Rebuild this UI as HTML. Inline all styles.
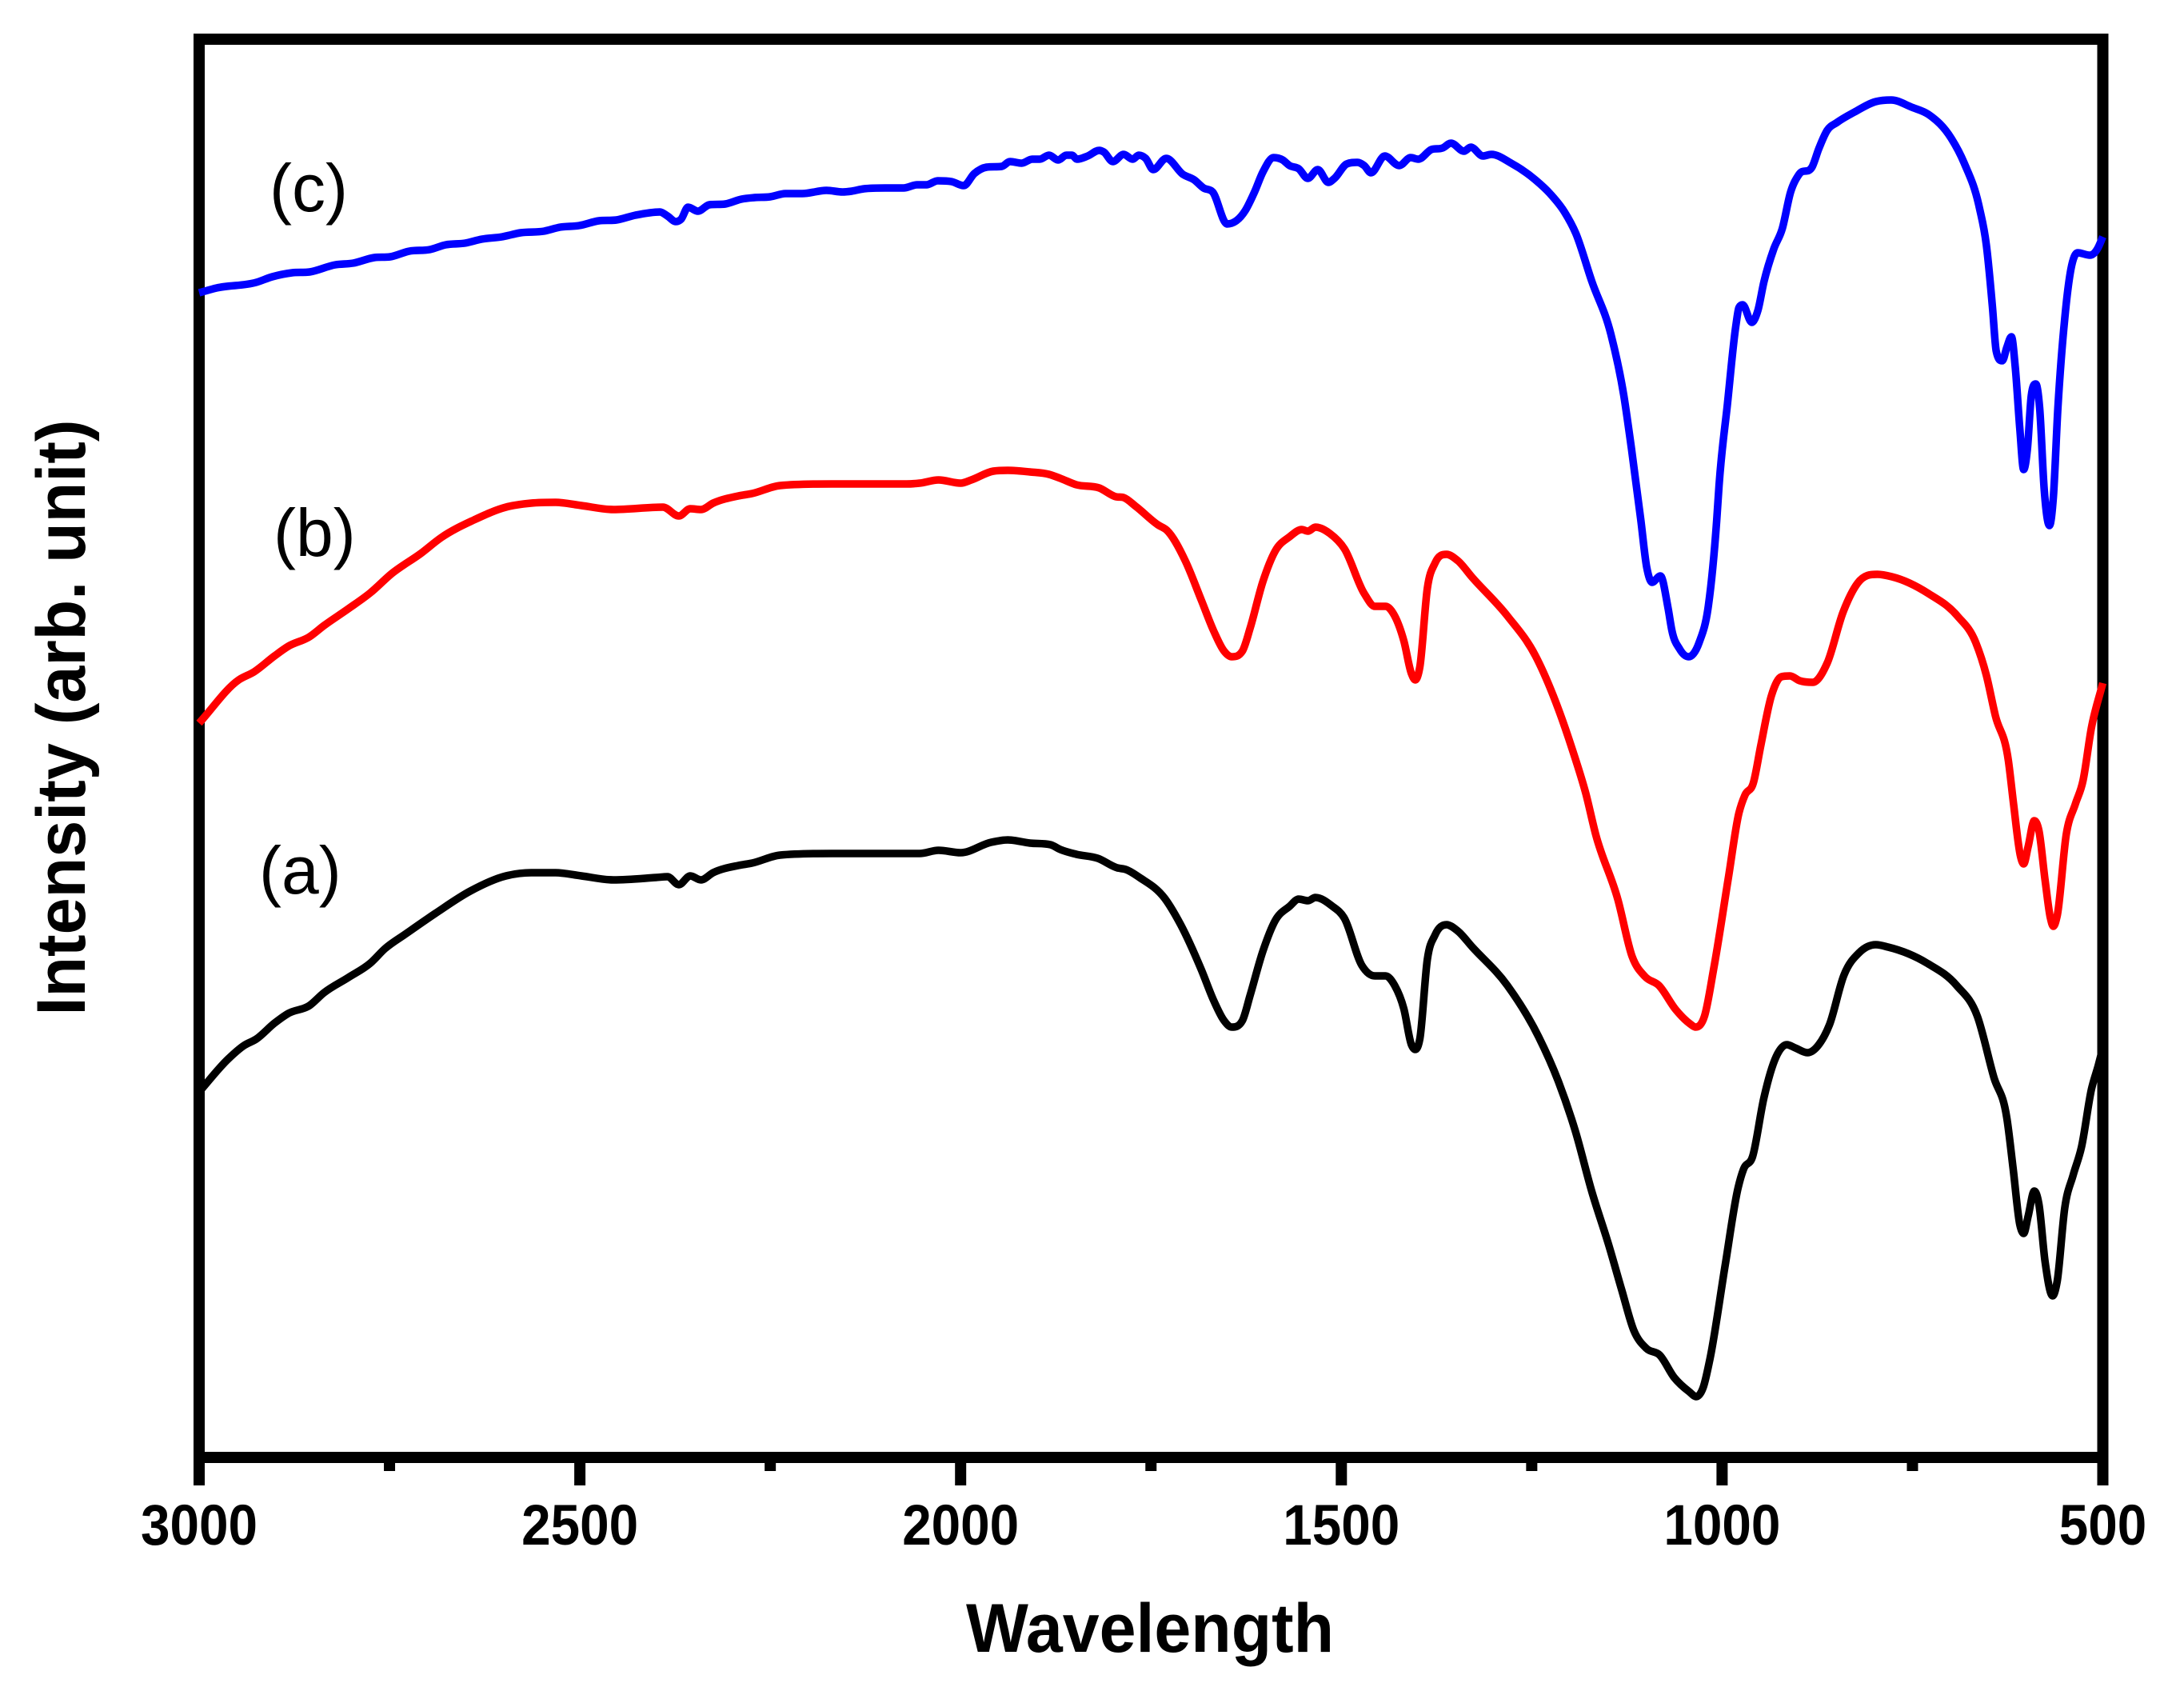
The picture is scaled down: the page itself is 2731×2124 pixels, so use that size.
<!DOCTYPE html>
<html>
<head>
<meta charset="utf-8">
<title>Intensity vs Wavelength</title>
<style>
html,body{margin:0;padding:0;background:#fff;}
svg{display:block;}
text{fill:#000;font-family:"Liberation Sans",sans-serif;}
.tick-label{font-size:71px;font-weight:bold;text-anchor:middle;}
.axis-title{font-size:86px;font-weight:bold;text-anchor:middle;}
.curve-label{font-size:84px;}
</style>
</head>
<body>
<svg id="chart" width="2731" height="2124" viewBox="0 0 2731 2124" xmlns="http://www.w3.org/2000/svg">
  <rect x="0" y="0" width="2731" height="2124" fill="#fff"/>
  <g id="axes"></g>
  <g id="series"></g>
  <text class="axis-title" x="1438" y="2065" textLength="460" lengthAdjust="spacingAndGlyphs">Wavelength</text>
  <text class="axis-title" transform="translate(106 897) rotate(-90)" x="0" y="0" textLength="745" lengthAdjust="spacingAndGlyphs">Intensity (arb. unit)</text>
  <text class="curve-label" x="337" y="264">(c)</text>
  <text class="curve-label" x="342" y="695">(b)</text>
  <text class="curve-label" x="324" y="1117">(a)</text>
</svg>
<script>
const majorTicks = [3000, 2500, 2000, 1500, 1000, 500];
const minorTicks = [2750, 2250, 1750, 1250, 750];
const tickLabels = ["3000", "2500", "2000", "1500", "1000", "500"];
const xDomain = [3000, 500];
const yDomain = [0, 1773];

const wavesA = [3000,2962,2941,2925,2901,2883,2855,2836,2804,2775,2756,2728,2690,2644,2597,2564,2532,2498,2456,2400,2385,2370,2355,2341,2325,2292,2274,2237,2169,2071,2054,2029,2000,1960,1938,1909,1882,1869,1848,1820,1794,1783,1765,1732,1711,1684,1668,1654,1644,1630,1620,1603,1587,1568,1556,1544,1534,1513,1496,1473,1456,1442,1430,1418,1408,1403,1397,1387,1377,1362,1347,1328,1282,1241,1215,1193,1171,1149,1132,1116,1099,1082,1063,1043,1034,1025,1016,996,979,972,960,945,929,915,904,888,873,859,840,820,798,782,731,692,665,643,626,618,609,604,598,590,584,576,566,560,550,539,528,515,506,500];
const intensityA = [457,498,515,523,543,555,565,581,600,618,636,655,680,708,727,731,731,727,722,725,726,716,727,722,731,740,743,753,755,755,755,759,756,769,772,768,766,760,754,749,737,735,725,699,666,610,572,546,538,546,577,633,671,689,698,696,700,690,674,615,602,602,590,561,516,510,523,623,653,666,658,638,590,526,470,409,332,266,210,159,136,128,100,82,76,87,123,240,337,360,376,450,501,516,512,506,516,541,603,631,641,638,618,590,552,475,424,363,291,280,302,333,317,246,202,220,312,353,388,460,490,512];

const wavesB = [3000,2948,2928,2901,2883,2855,2836,2804,2775,2747,2709,2682,2639,2597,2564,2532,2498,2456,2391,2370,2355,2341,2325,2292,2274,2237,2169,2071,2054,2029,2000,1986,1957,1938,1909,1884,1869,1848,1818,1796,1786,1770,1741,1729,1705,1684,1668,1654,1644,1630,1620,1603,1587,1568,1552,1544,1534,1515,1496,1470,1456,1442,1430,1418,1408,1403,1397,1387,1377,1362,1347,1328,1282,1245,1222,1197,1179,1166,1137,1118,1101,1083,1061,1042,1035,1023,1011,992,978,970,959,949,935,922,911,898,881,862,841,822,796,777,729,691,667,653,641,624,617,608,604,598,590,584,576,569,565,560,548,536,526,515,500];
const intensityB = [918,972,982,1002,1014,1026,1040,1061,1081,1105,1130,1150,1172,1188,1193,1194,1190,1185,1188,1177,1186,1185,1193,1202,1205,1215,1217,1217,1218,1222,1218,1222,1233,1234,1232,1229,1224,1216,1212,1201,1200,1189,1166,1159,1121,1072,1034,1008,1001,1008,1036,1095,1133,1151,1160,1158,1163,1155,1136,1080,1064,1064,1052,1021,980,972,988,1087,1118,1129,1121,1100,1052,1002,953,886,830,779,698,626,601,590,560,542,538,552,611,723,805,828,843,891,953,976,977,971,969,993,1057,1093,1104,1101,1080,1052,1019,978,927,871,815,751,742,764,796,784,723,675,664,677,779,817,846,912,968];

const wavesC = [3000,2977,2925,2904,2878,2855,2821,2798,2770,2749,2724,2697,2676,2651,2629,2602,2578,2547,2526,2501,2475,2452,2427,2395,2385,2374,2367,2358,2345,2330,2309,2288,2271,2250,2230,2208,2176,2155,2143,2127,2099,2075,2057,2045,2030,2012,1996,1982,1966,1946,1935,1920,1906,1896,1884,1872,1861,1854,1847,1833,1818,1812,1800,1786,1774,1766,1757,1747,1730,1708,1693,1681,1669,1650,1626,1614,1603,1589,1577,1568,1556,1544,1531,1517,1509,1493,1479,1470,1461,1443,1424,1409,1399,1382,1367,1356,1339,1330,1314,1303,1277,1245,1226,1207,1192,1171,1146,1129,1119,1107,1099,1092,1081,1071,1066,1056,1044,1030,1018,1007,1004,993,982,978,973,961,953,945,932,921,910,899,882,873,862,849,826,798,778,751,729,699,682,662,653,645,640,632,626,620,615,609,604,599,594,588,583,577,570,565,559,550,542,533,517,507,500];
const intensityC = [1456,1462,1469,1476,1481,1482,1491,1493,1500,1501,1508,1510,1516,1518,1523,1526,1531,1533,1538,1540,1546,1547,1553,1557,1552,1545,1548,1563,1558,1566,1567,1573,1575,1576,1580,1580,1584,1582,1583,1586,1587,1587,1591,1591,1596,1595,1590,1605,1613,1614,1620,1618,1623,1623,1628,1622,1628,1628,1623,1627,1634,1632,1620,1629,1623,1628,1624,1610,1624,1604,1597,1587,1582,1542,1559,1582,1607,1625,1622,1615,1611,1599,1610,1594,1599,1617,1619,1615,1606,1627,1615,1625,1623,1635,1637,1643,1633,1638,1627,1629,1618,1597,1580,1557,1530,1470,1404,1327,1261,1174,1113,1094,1102,1062,1034,1011,1001,1019,1065,1172,1215,1317,1414,1437,1441,1419,1434,1470,1511,1536,1582,1604,1613,1636,1659,1669,1682,1695,1697,1688,1679,1649,1618,1562,1516,1439,1383,1371,1388,1401,1363,1286,1235,1261,1327,1342,1312,1210,1165,1200,1312,1424,1485,1506,1503,1511,1526];

const seriesNames = ["series-a-black", "series-b-red", "series-c-blue"];
const seriesColors = ["#000000", "#ff0000", "#0000ff"];
const seriesWaves = [wavesA, wavesB, wavesC];
const seriesValues = [intensityA, intensityB, intensityC];

const plotLeft = 249, plotRight = 2629.5, plotTop = 49, plotBottom = 1822;
const svgNS = "http://www.w3.org/2000/svg";

function xScale(w) {
  return plotLeft + (xDomain[0] - w) / (xDomain[0] - xDomain[1]) * (plotRight - plotLeft);
}
function yScale(v) {
  return plotBottom - (v - yDomain[0]) / (yDomain[1] - yDomain[0]) * (plotBottom - plotTop);
}

function smoothPath(xs, ys) {
  const n = xs.length;
  const slopes = [];
  for (let i = 0; i < n - 1; i++) slopes.push((ys[i + 1] - ys[i]) / (xs[i + 1] - xs[i]));
  const tangents = [slopes[0]];
  for (let i = 1; i < n - 1; i++) {
    const s0 = slopes[i - 1], s1 = slopes[i];
    if (s0 * s1 <= 0) { tangents.push(0); continue; }
    const h0 = xs[i] - xs[i - 1], h1 = xs[i + 1] - xs[i];
    const p = (h1 * s0 + h0 * s1) / (h0 + h1);
    const limit = 3 * Math.min(Math.abs(s0), Math.abs(s1));
    tangents.push(Math.sign(p) * Math.min(Math.abs(p), limit));
  }
  tangents.push(slopes[n - 2]);
  let d = "M" + xs[0].toFixed(1) + " " + ys[0].toFixed(1);
  for (let i = 0; i < n - 1; i++) {
    const h = (xs[i + 1] - xs[i]) / 3;
    d += "C" + (xs[i] + h).toFixed(1) + " " + (ys[i] + tangents[i] * h).toFixed(1) + " " +
         (xs[i + 1] - h).toFixed(1) + " " + (ys[i + 1] - tangents[i + 1] * h).toFixed(1) + " " +
         xs[i + 1].toFixed(1) + " " + ys[i + 1].toFixed(1);
  }
  return d;
}

const axes = document.getElementById("axes");

const frame = document.createElementNS(svgNS, "rect");


frame.setAttribute("x", plotLeft);
frame.setAttribute("y", plotTop);
frame.setAttribute("width", plotRight - plotLeft);
frame.setAttribute("height", plotBottom - plotTop);
frame.setAttribute("fill", "none");
frame.setAttribute("stroke", "#000");
frame.setAttribute("stroke-width", "14");
frame.setAttribute("stroke-linejoin", "miter");
axes.appendChild(frame);

majorTicks.forEach(function (t, i) {
  const tick = document.createElementNS(svgNS, "line");
  
  
  tick.setAttribute("x1", xScale(t));
  tick.setAttribute("x2", xScale(t));
  tick.setAttribute("y1", plotBottom);
  tick.setAttribute("y2", 1857);
  tick.setAttribute("stroke", "#000");
  tick.setAttribute("stroke-width", "14");
  axes.appendChild(tick);

  const label = document.createElementNS(svgNS, "text");
  
  
  label.setAttribute("class", "tick-label");
  label.setAttribute("x", xScale(t));
  label.setAttribute("y", 1931);
  label.setAttribute("textLength", tickLabels[i].length * 36.5);
  label.setAttribute("lengthAdjust", "spacingAndGlyphs");
  label.textContent = tickLabels[i];
  axes.appendChild(label);
});

minorTicks.forEach(function (t) {
  const tick = document.createElementNS(svgNS, "line");
  
  
  tick.setAttribute("x1", xScale(t));
  tick.setAttribute("x2", xScale(t));
  tick.setAttribute("y1", plotBottom);
  tick.setAttribute("y2", 1839);
  tick.setAttribute("stroke", "#000");
  tick.setAttribute("stroke-width", "14");
  axes.appendChild(tick);
});

const seriesGroup = document.getElementById("series");
seriesNames.forEach(function (name, i) {
  const xs = seriesWaves[i].map(xScale);
  const ys = seriesValues[i].map(yScale);
  const path = document.createElementNS(svgNS, "path");
  
  
  path.setAttribute("d", smoothPath(xs, ys));
  path.setAttribute("fill", "none");
  path.setAttribute("stroke", seriesColors[i]);
  path.setAttribute("stroke-width", "9.5");
  path.setAttribute("stroke-linejoin", "round");
  seriesGroup.appendChild(path);
});
</script>
</body>
</html>
